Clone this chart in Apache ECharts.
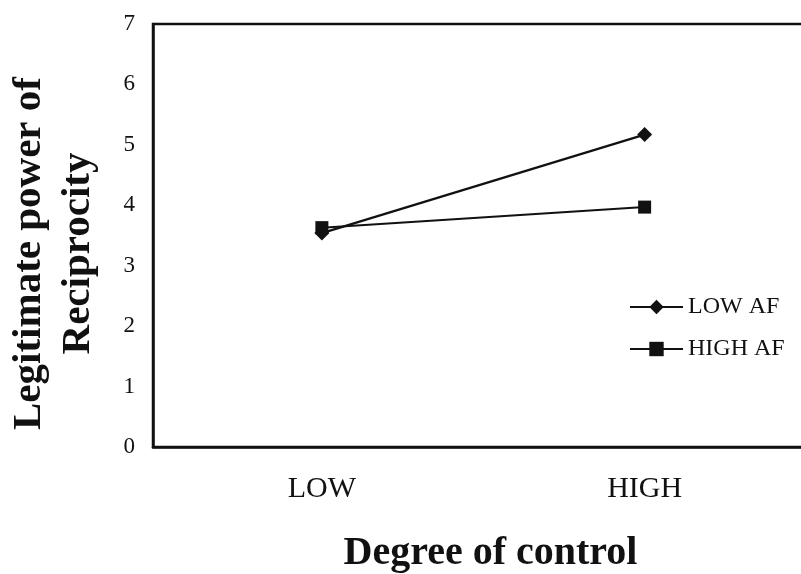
<!DOCTYPE html>
<html>
<head>
<meta charset="utf-8">
<script src="https://cdn.jsdelivr.net/npm/echarts@6/dist/echarts.min.js"></script>
<style>html,body{margin:0;padding:0;background:#fff;}#c{width:801px;height:574px;}</style>
</head>
<body>
<div id="c"></div>
<script>
var categories = ['LOW', 'HIGH'];
var lowAF = [3.54, 5.17];
var highAF = [3.63, 3.97];
var yTicks = [0, 1, 2, 3, 4, 5, 6, 7];

var chart = echarts.init(document.getElementById('c'), null, {renderer: 'canvas'});
var serif = '"Liberation Serif", "Times New Roman", serif';
function pts(arr) { return arr.map(function (v, i) { return [i, v]; }); }

chart.setOption({
  animation: false,
  backgroundColor: '#fff',
  grid: {left: 153, right: -5, top: 24, bottom: 127, containLabel: false, outerBoundsMode: 'none',
    show: true, borderColor: '#111', borderWidth: 2.5, backgroundColor: 'transparent'},
  legend: {
    orient: 'vertical', left: 624, top: 290, itemWidth: 53, itemHeight: 18, itemGap: 18,
    textStyle: {fontFamily: serif, fontSize: 24, color: '#111', padding: [0, 0, 14, 0]},
    data: ['LOW AF', 'HIGH AF']
  },
  xAxis: {
    type: 'value', min: -0.5232, max: 1.5,
    axisLine: {show: true, onZero: false, lineStyle: {color: '#111', width: 2.5}},
    axisTick: {show: false}, splitLine: {show: false},
    axisLabel: {
      customValues: [0, 1], margin: 27, fontFamily: serif, fontSize: 30, color: '#111',
      formatter: function (v) { return categories[Math.round(v)] || ''; }
    },
    name: 'Degree of control', nameLocation: 'middle', nameGap: 87,
    nameTextStyle: {fontFamily: serif, fontSize: 40, fontWeight: 'bold', color: '#111', padding: [0, 0, 0, 22]}
  },
  yAxis: {
    type: 'value', min: 0, max: 7, interval: 1,
    axisLine: {show: true, onZero: false, lineStyle: {color: '#111', width: 2.5}},
    axisTick: {show: false}, splitLine: {show: false},
    axisLabel: {margin: 18, fontFamily: serif, fontSize: 23, color: '#111', padding: [0, 0, 6, 0],
      formatter: function (v) { return yTicks.indexOf(v) >= 0 ? String(v) : ''; }},
    name: 'Legitimate power of\nReciprocity', nameLocation: 'middle', nameGap: 50, nameRotate: 90,
    nameTextStyle: {fontFamily: serif, fontSize: 41, fontWeight: 'bold', color: '#111', lineHeight: 49, padding: [0, 36, 0, 0]}
  },
  series: [
    {name: 'LOW AF', type: 'line', data: pts(lowAF), symbol: 'diamond', symbolSize: 15,
      lineStyle: {color: '#111', width: 2.2}, itemStyle: {color: '#111'}, z: 3},
    {name: 'HIGH AF', type: 'line', data: pts(highAF), symbol: 'rect', symbolSize: 13,
      lineStyle: {color: '#111', width: 2}, itemStyle: {color: '#111'}, z: 4}
  ]
});
</script>
</body>
</html>
